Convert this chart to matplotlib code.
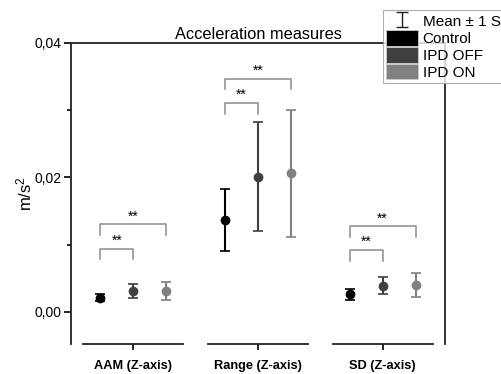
import numpy as np
import matplotlib
matplotlib.use("Agg")
import matplotlib.pyplot as plt
from matplotlib.patches import Patch

plt.rcParams['font.family'] = ['Liberation Sans', 'DejaVu Sans']
plt.rcParams['mathtext.default'] = 'regular'

# data
categorias = ['AAM (Z-axis)', 'Range (Z-axis)', 'SD (Z-axis)']
grupos = ['Control', 'IPD OFF', 'IPD ON']
cores = ['#000000', '#404040', '#808080']
medias = {
    'Control': [0.0021, 0.0137, 0.0026],
    'IPD OFF': [0.0031, 0.0201, 0.0039],
    'IPD ON':  [0.0031, 0.0206, 0.0040],
}
erros = {
    'Control': [0.0005, 0.0046, 0.0008],
    'IPD OFF': [0.0011, 0.0081, 0.0013],
    'IPD ON':  [0.0014, 0.0095, 0.0018],
}
# significance brackets: (category, group a, group b, height)
colchetes = [
    (0, 0, 1, 0.0094), (0, 0, 2, 0.0130),
    (1, 0, 1, 0.0311), (1, 0, 2, 0.0347),
    (2, 0, 1, 0.0092), (2, 0, 2, 0.0127),
]
rotulo_sig = '**'

fig = plt.figure(figsize=(5.02, 3.74), dpi=100)
ax = fig.add_axes([71 / 502, 30 / 374, 374 / 502, 301 / 374])

x = np.arange(1, len(categorias) + 1)
desloc = [-0.265, 0.0, 0.265]

for i, g in enumerate(grupos):
    ax.errorbar(x + desloc[i], medias[g], yerr=erros[g], fmt='o',
                color=cores[i], ecolor=cores[i], markersize=6,
                elinewidth=1.5, capsize=3.5, capthick=1.2, clip_on=False)

# brackets
perna = 0.0016
for c, a, b, h in colchetes:
    xa = x[c] + desloc[a]
    xb = x[c] + desloc[b]
    ax.plot([xa, xa, xb, xb], [h - perna, h, h, h - perna],
            color='#8c8c8c', lw=1.1)
    ax.text((xa + xb) / 2, h + 0.0012, rotulo_sig, ha='center', va='center',
            fontsize=10)

ax.set_xlim(0.5, 3.5)
ax.set_ylim(-0.0048, 0.04)
ax.set_yticks([0.0, 0.02, 0.04])
ax.set_yticklabels(['0,00', '0,02', '0,04'], fontsize=10)
ax.set_yticks([0.01, 0.03], minor=True)
ax.tick_params(axis='y', which='major', length=5, width=1.2, direction='out', pad=1.5)
ax.tick_params(axis='y', which='minor', length=3, width=1.2, direction='out')
ax.set_xticks(x)
ax.set_xticklabels(categorias, fontsize=9.2, fontweight='bold')
ax.tick_params(axis='x', length=4.3, width=1.2, direction='out', pad=7)

# broken bottom axis
ax.spines['bottom'].set_visible(False)
for xc in x:
    ax.plot([xc - 0.4, xc + 0.4], [0, 0], color='#222222', lw=1.3,
            transform=ax.get_xaxis_transform(), clip_on=False)
for s in ['left', 'right', 'top']:
    ax.spines[s].set_linewidth(1.3)
    ax.spines[s].set_color('#222222')

ax.set_ylabel('m/s$^2$', fontsize=12, labelpad=0)
ax.set_title('Acceleration measures', fontsize=11.8, pad=3)

# legend (partly outside the figure, as in the original)
eb = ax.errorbar([np.nan], [np.nan], yerr=[0.001], fmt='none',
                 ecolor='#222222', elinewidth=1.0, capsize=4, capthick=1.0)
alcas = [eb] + [Patch(facecolor=cc, edgecolor='#cccccc', lw=0.6) for cc in cores]
leg = fig.legend(alcas, ['Mean ± 1 SE'] + grupos,
                 loc='upper left', bbox_to_anchor=(383 / 502, 1 - 10 / 374),
                 fontsize=11, frameon=True, fancybox=False,
                 edgecolor='#999999', handlelength=2.1, handleheight=1.2,
                 labelspacing=0.06, handletextpad=0.3, borderpad=0.2,
                 borderaxespad=0)
leg.get_frame().set_linewidth(0.8)

fig.savefig('out.png', dpi=100)
